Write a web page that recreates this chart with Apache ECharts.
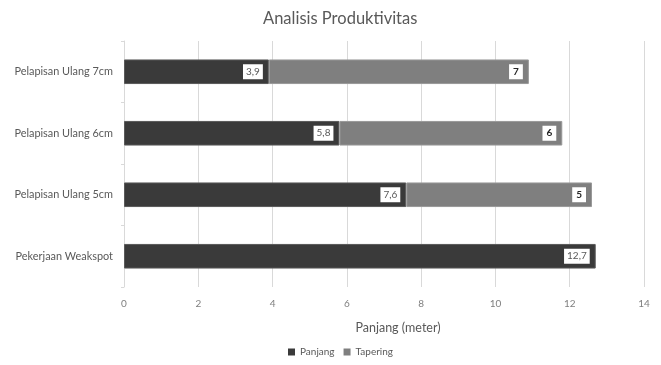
<!DOCTYPE html>
<html>
<head>
<meta charset="utf-8">
<script src="https://cdn.jsdelivr.net/npm/echarts@6/dist/echarts.min.js"></script>
<style>
  html, body { margin: 0; padding: 0; background: #fff; }
  #chart { width: 661px; height: 365px; }
</style>
</head>
<body>
<div id="chart"></div>
<script>
// Categories listed bottom to top (category axis on y starts at the bottom)
const categories = ['Pekerjaan Weakspot', 'Pelapisan Ulang 5cm', 'Pelapisan Ulang 6cm', 'Pelapisan Ulang 7cm'];
const panjang = [12.7, 7.6, 5.8, 3.9];
const tapering = [null, 5, 6, 7];
const xTicks = [0, 2, 4, 6, 8, 10, 12, 14];

const FONT = 'Lato, "Open Sans", sans-serif';
const fmt = v => String(v).replace('.', ',');

const chart = echarts.init(document.getElementById('chart'));
chart.setOption({
  animation: false,
  textStyle: { fontFamily: FONT },
  title: {
    text: 'Analisis Produktivitas',
    left: 258,
    top: 5,
    textStyle: { fontFamily: FONT, fontSize: 16.5, fontWeight: 'normal', color: '#595959' }
  },
  legend: {
    bottom: 3,
    left: 283,
    icon: 'rect',
    itemWidth: 7,
    itemHeight: 7,
    itemGap: 9,
    itemStyle: { borderWidth: 0 },
    textStyle: { fontFamily: FONT, fontSize: 10, color: '#595959' },
    data: ['Panjang', 'Tapering']
  },
  grid: { left: 124, right: 17, top: 41, bottom: 78 },
  xAxis: {
    type: 'value',
    min: xTicks[0],
    max: xTicks[xTicks.length - 1],
    interval: 2,
    name: 'Panjang (meter)',
    nameLocation: 'middle',
    nameGap: 34,
    nameTextStyle: { fontFamily: FONT, fontSize: 12.5, color: '#595959', padding: [0, 0, 0, 28] },
    axisLine: { show: false },
    axisTick: { show: false },
    axisLabel: { fontFamily: FONT, fontSize: 10, color: '#7f7f7f', margin: 12, formatter: v => fmt(v) },
    splitLine: { lineStyle: { color: '#d9d9d9', width: 1 } }
  },
  yAxis: {
    type: 'category',
    data: categories,
    axisLine: { show: true, lineStyle: { color: '#d9d9d9' } },
    axisTick: { show: true, length: 3, lineStyle: { color: '#d9d9d9' } },
    axisLabel: { fontFamily: FONT, fontSize: 10.9, color: '#595959', margin: 11 }
  },
  series: [
    {
      name: 'Panjang',
      type: 'bar',
      stack: 'total',
      data: panjang,
      barWidth: '40%',
      itemStyle: { color: '#3a3a3a', borderColor: '#5a5a5a', borderWidth: 1 },
      label: {
        show: true,
        position: 'insideRight',
        offset: [-1, 0],
        formatter: p => fmt(p.value),
        fontFamily: FONT,
        fontSize: 10,
        color: '#595959',
        backgroundColor: '#ffffff',
        padding: [3, 3, 2, 3]
      }
    },
    {
      name: 'Tapering',
      type: 'bar',
      stack: 'total',
      data: tapering,
      barWidth: '40%',
      itemStyle: { color: '#7f7f7f', borderColor: '#999999', borderWidth: 1 },
      label: {
        show: true,
        position: 'insideRight',
        offset: [-1, 0],
        formatter: p => fmt(p.value),
        fontFamily: FONT,
        fontSize: 10,
        fontWeight: 'bold',
        color: '#262626',
        backgroundColor: '#ffffff',
        padding: [3, 4, 2, 4]
      }
    }
  ]
});
</script>
</body>
</html>
